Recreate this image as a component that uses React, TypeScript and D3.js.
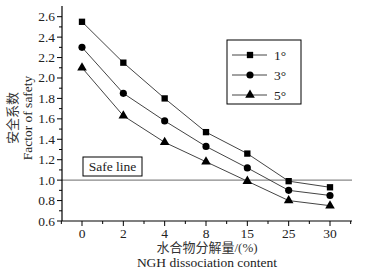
import React from "react";
import * as d3 from "d3";

const categories = ["0", "2", "4", "8", "15", "25", "30"];
const seriesNames = ["1°", "3°", "5°"];
const series1 = [2.55, 2.15, 1.80, 1.47, 1.26, 0.99, 0.93];
const series3 = [2.30, 1.85, 1.58, 1.33, 1.12, 0.90, 0.85];
const series5 = [2.10, 1.63, 1.37, 1.18, 0.99, 0.80, 0.75];
const yTicks = [0.6, 0.8, 1.0, 1.2, 1.4, 1.6, 1.8, 2.0, 2.2, 2.4, 2.6];
const safeValue = 1.0;

const FONT = "Liberation Serif";

export default function App() {
  const W = 365, H = 271;
  const axL = 62, axR = 352, axB = 221, axT = 6;
  const x = d3.scalePoint<string>().domain(categories).range([82, 330]);
  const y = d3.scaleLinear().domain([0.6, 2.6]).range([axB, 16.7]);
  const step = x.step();
  const data = [series1, series3, series5];
  const line = d3.line<number>().x((_, i) => x(categories[i])!).y((v) => y(v));
  const sym = [d3.symbolSquare, d3.symbolCircle, d3.symbolTriangle];
  const sizes = [40, 40, 40];
  const symPath = (i: number) => d3.symbol().type(sym[i]).size(sizes[i])()!;
  const minorY = d3.range(0.7, 2.65, 0.2);
  const minorX = categories.slice(0, -1).map((c) => x(c)! + step / 2);
  minorX.push(x(categories[0])! - step / 2);
  minorX.push(x(categories[categories.length - 1])! + step / 2);
  const txt = "#222";

  return (
    <svg width={W} height={H} style={{ position: "absolute", left: 0, top: 0, background: "#fff" }}>
      <rect width={W} height={H} fill="#fff" />
      {/* safe line */}
      <line x1={axL} x2={axR} y1={y(safeValue)} y2={y(safeValue)} stroke="#888" strokeWidth={1.3} />
      <rect x={83} y={157} width={59} height={19} fill="#fff" stroke="#000" strokeWidth={1} />
      <text x={112.5} y={171} textAnchor="middle" fontFamily={FONT} fontSize={13.5} fill={txt}>Safe line</text>
      {/* axes */}
      <line x1={axL} x2={axL} y1={axT} y2={axB} stroke="#000" strokeWidth={1.2} />
      <line x1={axL} x2={axR} y1={axB} y2={axB} stroke="#000" strokeWidth={1.2} />
      {yTicks.map((t) => (
        <g key={"y" + t}>
          <line x1={axL - 5} x2={axL} y1={y(t)} y2={y(t)} stroke="#000" />
          <text x={axL - 7} y={y(t) + 4.5} textAnchor="end" fontFamily={FONT} fontSize={13.5} fill={txt}>{t.toFixed(1)}</text>
        </g>
      ))}
      {minorY.map((t) => (
        <line key={"my" + t} x1={axL - 3} x2={axL} y1={y(t)} y2={y(t)} stroke="#000" />
      ))}
      {categories.map((c) => (
        <g key={"x" + c}>
          <line x1={x(c)} x2={x(c)} y1={axB} y2={axB + 5} stroke="#000" />
          <text x={x(c)} y={238} textAnchor="middle" fontFamily={FONT} fontSize={13.5} fill={txt}>{c}</text>
        </g>
      ))}
      {minorX.map((m, i) => (
        <line key={"mx" + i} x1={m} x2={m} y1={axB} y2={axB + 3} stroke="#000" />
      ))}
      {/* axis titles */}
      <text x={207} y={252} textAnchor="middle" fontFamily="Liberation Serif, Noto Sans CJK SC" fontSize={13} fill="#333">水合物分解量/(%)</text>
      <text x={207} y={267} textAnchor="middle" fontFamily={FONT} fontSize={13.5} fill={txt}>NGH dissociation content</text>
      <text transform="translate(17,118) rotate(-90)" textAnchor="middle" fontFamily="Noto Sans CJK SC" fontSize={13} fill="#333">安全系数</text>
      <text transform="translate(32,118) rotate(-90)" textAnchor="middle" fontFamily={FONT} fontSize={13.5} fill={txt}>Factor of safety</text>
      {/* series */}
      {data.map((s, si) => (
        <g key={"s" + si}>
          <path d={line(s)!} fill="none" stroke="#444" strokeWidth={1} />
          {s.map((v, i) => (
            <path key={i} d={symPath(si)} transform={`translate(${x(categories[i])},${y(v)})`} fill="#000" />
          ))}
        </g>
      ))}
      {/* legend */}
      <rect x={227} y={40} width={74} height={64} fill="#fff" stroke="#000" strokeWidth={1} />
      {seriesNames.map((n, i) => (
        <g key={"l" + i}>
          <line x1={232} x2={267} y1={55 + i * 20} y2={55 + i * 20} stroke="#444" />
          <path d={symPath(i)} transform={`translate(250,${55 + i * 20})`} fill="#000" />
          <text x={274} y={59.5 + i * 20} fontFamily={FONT} fontSize={13.5} fill={txt}>{n}</text>
        </g>
      ))}
    </svg>
  );
}
